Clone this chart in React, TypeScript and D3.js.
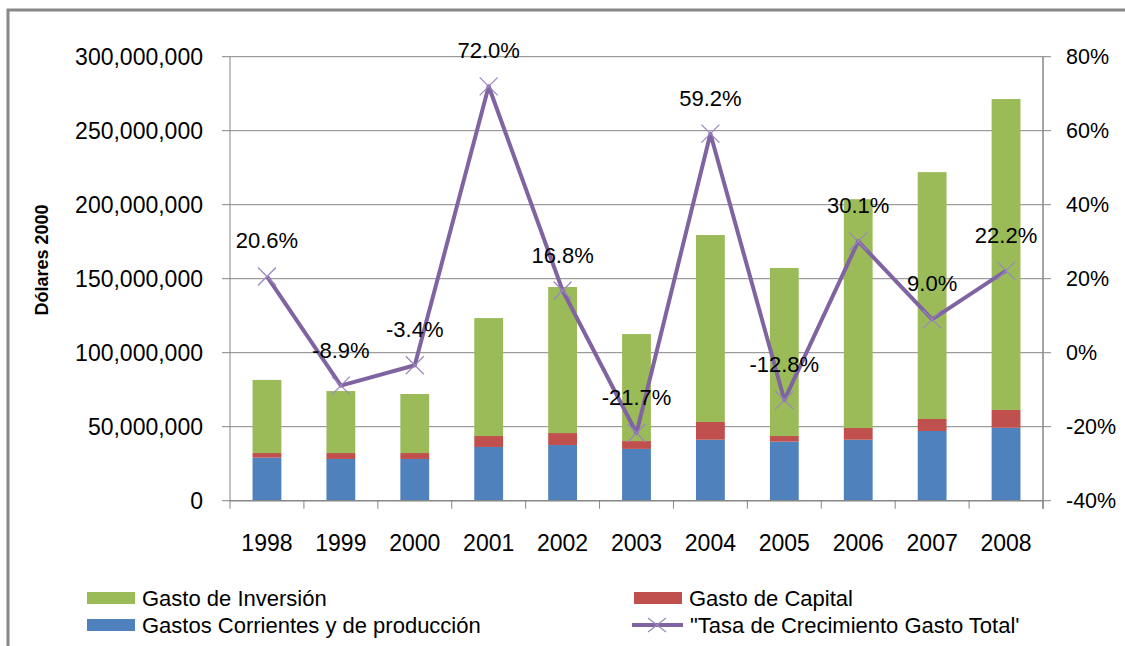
import React, { useEffect, useRef } from 'react';
import * as d3 from 'd3';

const years = ['1998', '1999', '2000', '2001', '2002', '2003', '2004', '2005', '2006', '2007', '2008'];
// millions of 2000 dollars
const corrientes = [29.1, 28.2, 28.2, 36.3, 37.6, 35.0, 41.2, 39.9, 41.2, 47.1, 49.3];
const capital = [3.1, 4.0, 4.0, 7.4, 8.1, 5.3, 12.0, 3.8, 7.9, 8.1, 12.0];
const inversion = [49.4, 41.9, 39.9, 79.7, 98.7, 72.3, 126.3, 113.5, 154.6, 166.8, 210.1];
const tasa = [20.6, -8.9, -3.4, 72.0, 16.8, -21.7, 59.2, -12.8, 30.1, 9.0, 22.2];
const leftTicks = [0, 50e6, 100e6, 150e6, 200e6, 250e6, 300e6];
const rightTicks = [-0.4, -0.2, 0, 0.2, 0.4, 0.6, 0.8];

const seriesNames = ['Gastos Corrientes y de producción', 'Gasto de Capital', 'Gasto de Inversión'];
const colors = ['#4F81BD', '#C0504D', '#9BBB59'];
const lineColor = '#8064A2';
const FONT = '"Liberation Sans", Arial, sans-serif';

const W = 1125;
const H = 646;

const App = () => {
  const svgRef = useRef<SVGSVGElement>(null);

  useEffect(() => {
    if (!svgRef.current) return;
    const svg = d3.select(svgRef.current);
    svg.selectAll('*').remove();

    const left = 230, right = 1043, top = 56.7, bottom = 500.7;

    const x = d3.scaleBand().domain(years).range([left, right]).paddingInner(0.61).paddingOuter(0.305);
    const step = x.step();
    const yL = d3.scaleLinear().domain([0, 300e6]).range([bottom, top]);
    const yR = d3.scaleLinear().domain([-0.4, 0.8]).range([bottom, top]);

    // outer frame
    svg.append('rect')
      .attr('x', 8).attr('y', 10)
      .attr('width', W).attr('height', H)
      .attr('fill', 'white')
      .attr('stroke', '#888').attr('stroke-width', 3);

    // gridlines
    svg.append('g').selectAll('line')
      .data(leftTicks.slice(1))
      .enter().append('line')
      .attr('x1', left).attr('x2', right)
      .attr('y1', d => yL(d)).attr('y2', d => yL(d))
      .attr('stroke', '#868686').attr('stroke-width', 1);

    // stacked bars
    const rows = years.map((yr, i) => ({ yr, a: corrientes[i] * 1e6, b: capital[i] * 1e6, c: inversion[i] * 1e6 }));
    const stack = d3.stack<any>().keys(['a', 'b', 'c'])(rows);
    stack.forEach((layer, k) => {
      svg.append('g').selectAll('rect')
        .data(layer)
        .enter().append('rect')
        .attr('x', d => x(d.data.yr)!)
        .attr('width', x.bandwidth())
        .attr('y', d => yL(d[1]))
        .attr('height', d => yL(d[0]) - yL(d[1]))
        .attr('fill', colors[k]);
    });

    // axes lines
    const axisColor = '#868686';
    svg.append('line').attr('x1', left).attr('x2', left).attr('y1', top).attr('y2', bottom)
      .attr('stroke', axisColor);
    svg.append('line').attr('x1', right).attr('x2', right).attr('y1', top).attr('y2', bottom + 8)
      .attr('stroke', axisColor).attr('stroke-width', 1.5);
    svg.append('line').attr('x1', left).attr('x2', right).attr('y1', bottom).attr('y2', bottom)
      .attr('stroke', axisColor).attr('stroke-width', 1.5);

    // left ticks + labels
    const lt = svg.append('g');
    leftTicks.forEach(t => {
      lt.append('line').attr('x1', left - 8).attr('x2', left).attr('y1', yL(t)).attr('y2', yL(t)).attr('stroke', axisColor);
      lt.append('text').attr('x', 203).attr('y', yL(t)).attr('dy', '0.35em')
        .attr('text-anchor', 'end').attr('font-family', FONT).attr('font-size', 23).attr('fill', '#000')
        .text(d3.format(',')(t));
    });

    // right ticks + labels
    const rt = svg.append('g');
    rightTicks.forEach(t => {
      rt.append('line').attr('x1', right).attr('x2', right + 8).attr('y1', yR(t)).attr('y2', yR(t)).attr('stroke', axisColor);
      rt.append('text').attr('x', 1066).attr('y', yR(t)).attr('dy', '0.35em')
        .attr('text-anchor', 'start').attr('font-family', FONT).attr('font-size', 21.5).attr('fill', '#000')
        .text(`${Math.round(t * 100)}%`);
    });

    // category ticks and labels
    const xt = svg.append('g');
    d3.range(years.length + 1).forEach(i => {
      const px = left + i * step;
      xt.append('line').attr('x1', px).attr('x2', px).attr('y1', bottom).attr('y2', bottom + 8).attr('stroke', axisColor);
    });
    years.forEach(yr => {
      xt.append('text').attr('x', x(yr)! + x.bandwidth() / 2).attr('y', 543).attr('dy', '0.35em')
        .attr('text-anchor', 'middle').attr('font-family', FONT).attr('font-size', 23).attr('fill', '#000')
        .text(yr);
    });

    // y title
    svg.append('text')
      .attr('transform', 'translate(42,260) rotate(-90)')
      .attr('text-anchor', 'middle').attr('dy', '0.35em')
      .attr('font-family', FONT).attr('font-size', 18).attr('font-weight', 'bold')
      .text('Dólares 2000');

    // growth line
    const cx = (i: number) => x(years[i])! + x.bandwidth() / 2;
    const line = d3.line<number>().x((d, i) => cx(i)).y(d => yR(d / 100));
    svg.append('path').datum(tasa)
      .attr('d', line)
      .attr('fill', 'none').attr('stroke', lineColor).attr('stroke-width', 4)
      .attr('stroke-linejoin', 'round');

    const mk = svg.append('g');
    tasa.forEach((v, i) => {
      const px = cx(i), py = yR(v / 100), s = 9;
      mk.append('path')
        .attr('d', `M${px - s},${py - s}L${px + s},${py + s}M${px - s},${py + s}L${px + s},${py - s}`)
        .attr('stroke', '#9a85be').attr('stroke-width', 1.2).attr('fill', 'none');
      mk.append('text').attr('x', px).attr('y', py - 28)
        .attr('text-anchor', 'middle').attr('font-family', FONT).attr('font-size', 22).attr('fill', '#000')
        .text(`${v.toFixed(1)}%`);
    });

    // legend
    const lg = svg.append('g').attr('font-family', FONT).attr('font-size', 22);
    const items = [
      { label: seriesNames[2], color: colors[2], col: 0, row: 0 },
      { label: seriesNames[1], color: colors[1], col: 1, row: 0 },
      { label: seriesNames[0], color: colors[0], col: 0, row: 1 },
    ];
    items.forEach(it => {
      const lx = it.col === 0 ? 87 : 634;
      const ly = 598 + it.row * 27;
      lg.append('rect').attr('x', lx).attr('y', ly - 6).attr('width', 48).attr('height', 12).attr('fill', it.color);
      lg.append('text').attr('x', lx + 55).attr('y', ly).attr('dy', '0.35em').text(it.label);
    });
    const ly2 = 625;
    lg.append('line').attr('x1', 632).attr('x2', 683).attr('y1', ly2).attr('y2', ly2)
      .attr('stroke', lineColor).attr('stroke-width', 4);
    lg.append('path')
      .attr('d', `M648,${ly2 - 7}L666,${ly2 + 7}M648,${ly2 + 7}L666,${ly2 - 7}`)
      .attr('stroke', '#9a85be').attr('stroke-width', 1.2);
    lg.append('text').attr('x', 690).attr('y', ly2).attr('dy', '0.35em').text('"Tasa de Crecimiento Gasto Total\'');
  }, []);

  return (
    <div style={{ position: 'absolute', left: 0, top: 0, width: W, height: H, overflow: 'hidden', background: 'white' }}>
      <svg ref={svgRef} width={W} height={H} style={{ display: 'block' }} />
    </div>
  );
};

export default App;
